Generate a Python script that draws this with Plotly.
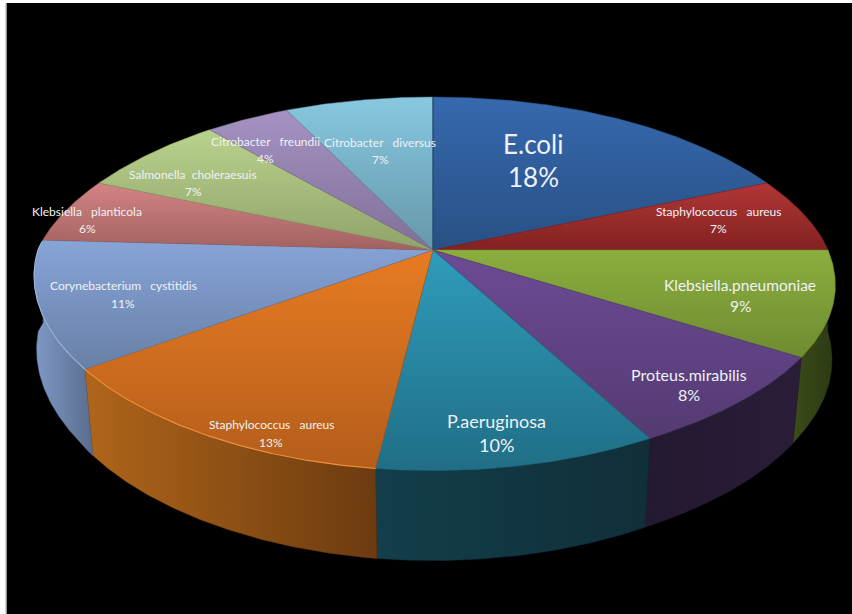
import numpy as np
import plotly.graph_objects as go

# Slice data, clockwise from twelve o'clock
names = ["E.coli", "Staphylococcus   aureus", "Klebsiella.pneumoniae", "Proteus.mirabilis",
         "P.aeruginosa", "Staphylococcus   aureus", "Corynebacterium   cystitidis",
         "Klebsiella   planticola", "Salmonella  choleraesuis", "Citrobacter   freundii",
         "Citrobacter   diversus"]
percent = [18, 7, 9, 8, 10, 13, 11, 6, 7, 4, 7]

# Top-face shading (upper colour, lower colour) per slice
top_colors = [("#3669ae", "#285084"), ("#b23636", "#822221"), ("#8bae3e", "#6f8b31"),
              ("#6d4b95", "#543a72"), ("#2f9cbb", "#206e86"), ("#e77b22", "#b45d1b"),
              ("#87a4d8", "#6880a6"), ("#d38483", "#a26261"), ("#b9d28c", "#90a36b"),
              ("#a592c2", "#7f7098"), ("#87c8e0", "#6697a9")]
# Side-wall shading (left colour, right colour) per slice
wall_colors = [("#1c3454", "#1c3454"), ("#5a1818", "#5a1818"), ("#3c4c1a", "#2c3913"),
               ("#231930", "#2a1d38"), ("#133e4b", "#102f39"), ("#b0651a", "#6c3b10"),
               ("#7f9ac6", "#5a6c8e"), ("#000000", "#000000"), ("#000000", "#000000"),
               ("#000000", "#000000"), ("#000000", "#000000")]
rim_colors = [None, None, None, None, None, "#ee8f3c", "#97b0dc",
              None, None, None, None]

# Label placement: name centre, percentage centre, font size, in pixels
label_x = [533, 718, 740, 689, 496, 271, 123, 87, 193, 265, 380]
name_y = [144, 211, 285, 374, 421, 424, 285, 211, 174, 141, 142]
pct_y = [177, 228, 306, 394, 445, 442, 303, 228, 191, 158, 159]
label_size = [26, 12, 15.5, 16, 18, 12, 12, 12, 12, 12, 12]

# Perspective view of the disc
CX, CY, RX = 433, 250, 395
RY_BACK, RY_FRONT, K_Y = 153, 182, 0.175
K_BACK, K_FRONT = 0.165, 0.14
BASE_SCALE = 0.977


def rim(theta_deg):
    t = np.radians(theta_deg)
    u, v = np.sin(t), np.cos(t)
    k = np.where(v > 0, K_BACK, K_FRONT + 0.1 * np.maximum(u - 0.48, 0))
    x = CX + RX * u / (1 + k * v)
    y_back = CY - RY_BACK * v * (1.03 - 0.03 * v ** 4)
    y_front = CY - RY_FRONT * v / (1 + K_Y * v)
    return x, np.where(v > 0, y_back, y_front)


def base(theta_deg):
    x, y = rim(theta_deg)
    v = np.cos(np.radians(theta_deg))
    # The lower rim stays almost as wide as the top at the far left and right
    scale = BASE_SCALE + 0.022 * np.maximum(0, 1 - np.abs(v) / 0.5)
    return CX + scale * (x - CX), y + 81 - 9 * np.minimum(v, 0)


edges = np.cumsum([0] + percent) * 3.6
fig = go.Figure()

# Side walls along the front half of the disc
for i, (a0, a1) in enumerate(zip(edges[:-1], edges[1:])):
    lo, hi = max(a0, 90), min(a1, 273)
    if hi <= lo:
        continue
    th = np.linspace(lo, hi, max(int(hi - lo) * 2, 3))
    xt, yt = rim(th)
    xb, yb = base(th)
    xs = np.concatenate([xt, xb[::-1], xt[:1]])
    ys = np.concatenate([yt, yb[::-1], yt[:1]])
    fig.add_trace(go.Scatter(
        x=xs, y=ys, mode="lines", fill="toself",
        line=dict(width=0.5, color=wall_colors[i][1]),
        fillgradient=dict(type="horizontal", start=float(xs.min()), stop=float(xs.max()),
                          colorscale=[[0, wall_colors[i][0]], [1, wall_colors[i][1]]]),
    ))

# Top face
for i, (a0, a1) in enumerate(zip(edges[:-1], edges[1:])):
    th = np.linspace(a0, a1, max(int(a1 - a0) * 2, 3))
    xr, yr = rim(th)
    xs = np.concatenate([[CX], xr, [CX]])
    ys = np.concatenate([[CY], yr, [CY]])
    fig.add_trace(go.Scatter(
        x=xs, y=ys, mode="lines", fill="toself",
        line=dict(width=0.5, color=top_colors[i][1]),
        fillgradient=dict(type="vertical", start=float(ys.min()), stop=float(ys.max()),
                          colorscale=[[0, top_colors[i][0]], [1, top_colors[i][1]]]),
    ))

# Bevel highlight on the front edge
for i, (a0, a1) in enumerate(zip(edges[:-1], edges[1:])):
    if rim_colors[i] is None:
        continue
    lo, hi = max(a0, 90), min(a1, 273)
    th = np.linspace(lo, hi, max(int(hi - lo) * 2, 3))
    xr, yr = rim(th)
    fig.add_trace(go.Scatter(x=xr, y=yr, mode="lines",
                             line=dict(width=1.2, color=rim_colors[i])))

# Dark seam where the first slice starts
x0, y0 = rim(np.array([0.0]))
fig.add_trace(go.Scatter(x=[CX, float(x0[0])], y=[CY, float(y0[0])], mode="lines",
                         line=dict(width=1.2, color="#1d3f66")))

for i, name in enumerate(names):
    font = dict(family="Lato, Carlito, sans-serif", size=label_size[i], color="#eef2f6")
    text = name.replace(" ", "\u00a0")
    fig.add_annotation(x=label_x[i], y=name_y[i], text=text, showarrow=False, font=font,
                       xanchor="center", yanchor="middle")
    fig.add_annotation(x=label_x[i], y=pct_y[i], text=f"{percent[i]}%", showarrow=False,
                       font=font, xanchor="center", yanchor="middle")

fig.update_traces(hoverinfo="skip", showlegend=False)
fig.update_layout(
    width=852, height=614, margin=dict(l=0, r=0, t=0, b=0, pad=0),
    paper_bgcolor="#ffffff", plot_bgcolor="#ffffff", showlegend=False,
    xaxis=dict(range=[0, 852], visible=False, fixedrange=True),
    yaxis=dict(range=[614, 0], visible=False, fixedrange=True),
    shapes=[
        dict(type="rect", x0=6.5, x1=852, y0=3, y1=614, layer="below",
             fillcolor="#000000", line=dict(width=0)),
        dict(type="line", x0=6, x1=6, y0=3, y1=614, layer="below",
             line=dict(width=1, color="#a8a8a8")),
    ],
)
fig.write_html("out.html", config={"displayModeBar": False})
